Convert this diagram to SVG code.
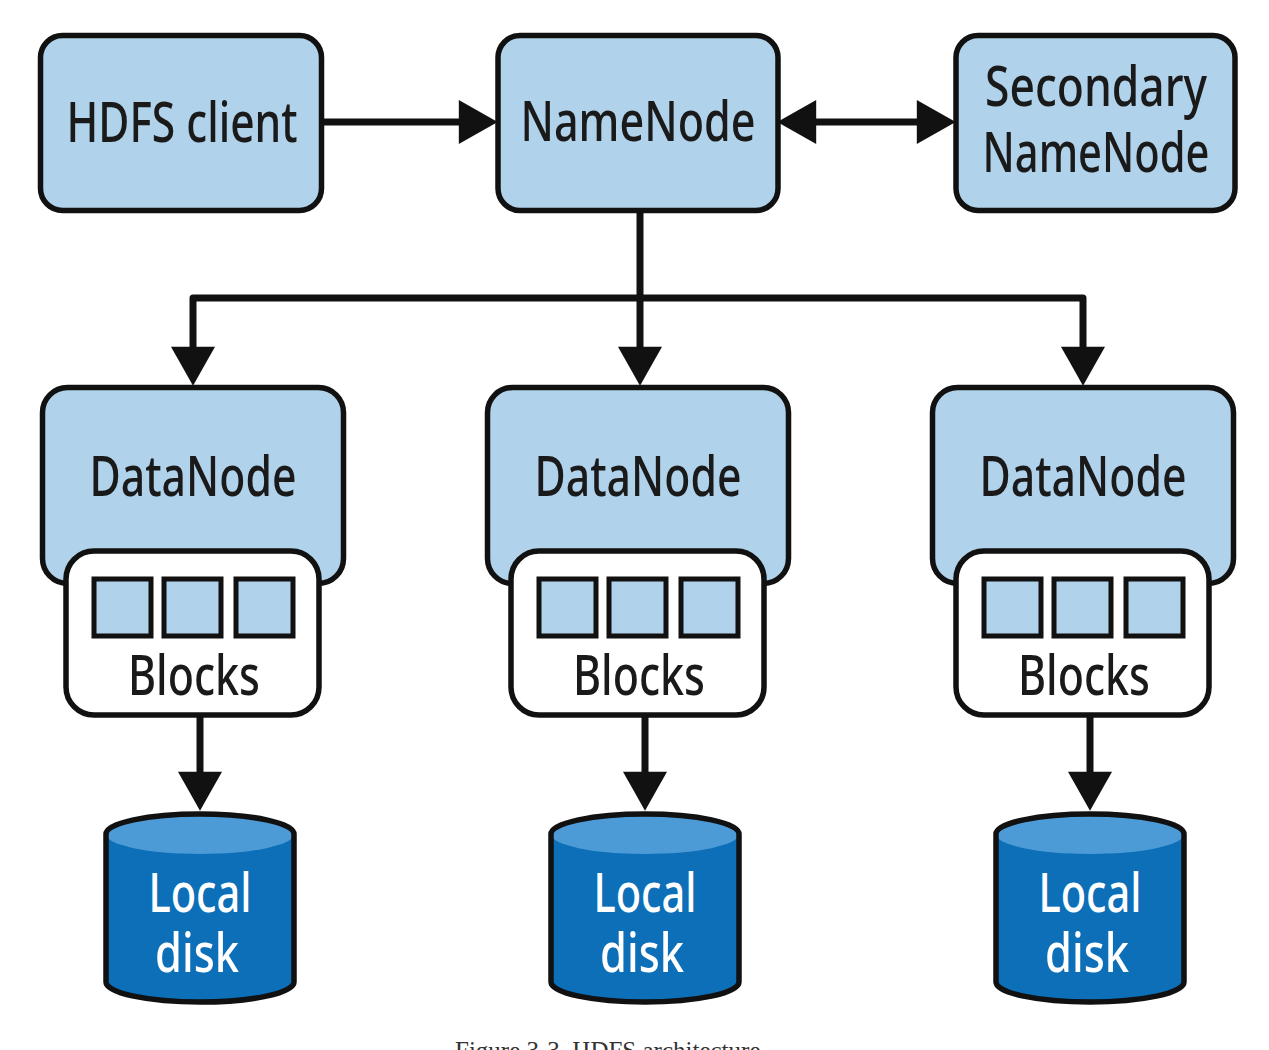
<svg xmlns="http://www.w3.org/2000/svg" width="1269" height="1050" viewBox="0 0 1269 1050">
<defs>
<style>
.box{fill:#b0d2ea;stroke:#111;stroke-width:5.5}
.blk{fill:#fff;stroke:#111;stroke-width:5.5}
.sq{fill:#b0d2ea;stroke:#111;stroke-width:5}
.lbl{font-family:"Noto Sans","Open Sans",sans-serif;font-size:57px;font-weight:500;fill:#1a1a1a;text-anchor:middle}
.wl{font-family:"Noto Sans","Open Sans",sans-serif;font-size:55px;font-weight:500;fill:#fff;text-anchor:middle}
.conn{fill:none;stroke:#111;stroke-width:7;stroke-linejoin:round}
.body{fill:#0c6fb8}
.top{fill:#4d9bd6}
.outl{fill:none;stroke:#111;stroke-width:5.5}
.cap{font-family:"Liberation Serif",serif;font-size:25px;fill:#333}
</style>
<marker id="ah" markerUnits="userSpaceOnUse" markerWidth="40" markerHeight="44" viewBox="0 0 38 43" refX="8" refY="21.5" orient="auto-start-reverse">
<path d="M0,0 L38,21.5 L0,43 Z" fill="#111"/>
</marker>
</defs>
<rect width="1269" height="1050" fill="#fff"/>

<g id="connectors">
<path class="conn" d="M323,122 H467" marker-end="url(#ah)"/>
<path class="conn" d="M808,122 H925" marker-start="url(#ah)" marker-end="url(#ah)"/>
<path class="conn" d="M640,212 V355" marker-end="url(#ah)"/>
<path class="conn" d="M640,298 H193 V355" marker-end="url(#ah)"/>
<path class="conn" d="M640,298 H1083 V355" marker-end="url(#ah)"/>
<path class="conn" d="M200,715 V780" marker-end="url(#ah)"/>
<path class="conn" d="M645,715 V780" marker-end="url(#ah)"/>
<path class="conn" d="M1090,715 V780" marker-end="url(#ah)"/>
</g>

<g id="hdfs-client">
<rect class="box" x="40.5" y="35.5" width="281" height="175" rx="22"/>
<text class="lbl" x="182" y="142" textLength="231" lengthAdjust="spacingAndGlyphs">HDFS client</text>
</g>
<g id="namenode">
<rect class="box" x="498" y="35.5" width="280" height="175" rx="22"/>
<text class="lbl" x="638" y="141" textLength="235" lengthAdjust="spacingAndGlyphs">NameNode</text>
</g>
<g id="secondary-namenode">
<rect class="box" x="956" y="35.5" width="279" height="175" rx="22"/>
<text class="lbl" x="1096" y="106" textLength="222" lengthAdjust="spacingAndGlyphs">Secondary</text>
<text class="lbl" x="1096" y="172" textLength="227" lengthAdjust="spacingAndGlyphs">NameNode</text>
</g>

<g id="datanode-1">
<rect class="box" x="42.5" y="387.5" width="301" height="196" rx="25"/>
<text class="lbl" x="193" y="496" textLength="207" lengthAdjust="spacingAndGlyphs">DataNode</text>
<rect class="blk" x="66" y="551" width="253" height="164" rx="28"/>
<rect class="sq" x="94" y="579" width="57" height="57"/>
<rect class="sq" x="164" y="579" width="57" height="57"/>
<rect class="sq" x="236" y="579" width="57" height="57"/>
<text class="lbl" x="194" y="695" textLength="132" lengthAdjust="spacingAndGlyphs">Blocks</text>
</g>
<g id="datanode-2">
<rect class="box" x="487.5" y="387.5" width="301" height="196" rx="25"/>
<text class="lbl" x="638" y="496" textLength="207" lengthAdjust="spacingAndGlyphs">DataNode</text>
<rect class="blk" x="511" y="551" width="253" height="164" rx="28"/>
<rect class="sq" x="539" y="579" width="57" height="57"/>
<rect class="sq" x="609" y="579" width="57" height="57"/>
<rect class="sq" x="681" y="579" width="57" height="57"/>
<text class="lbl" x="639" y="695" textLength="132" lengthAdjust="spacingAndGlyphs">Blocks</text>
</g>
<g id="datanode-3">
<rect class="box" x="932.5" y="387.5" width="301" height="196" rx="25"/>
<text class="lbl" x="1083" y="496" textLength="207" lengthAdjust="spacingAndGlyphs">DataNode</text>
<rect class="blk" x="956" y="551" width="253" height="164" rx="28"/>
<rect class="sq" x="984" y="579" width="57" height="57"/>
<rect class="sq" x="1054" y="579" width="57" height="57"/>
<rect class="sq" x="1126" y="579" width="57" height="57"/>
<text class="lbl" x="1084" y="695" textLength="132" lengthAdjust="spacingAndGlyphs">Blocks</text>
</g>

<g id="disk-1">
<path class="body" d="M106,834 V982 A94,20 0 0 0 294,982 V834 Z"/>
<ellipse class="top" cx="200" cy="834" rx="94" ry="20"/>
<path class="outl" d="M106,834 V982 A94,20 0 0 0 294,982 V834 A94,20 0 0 0 106,834 Z"/>
<text class="wl" x="200" y="912" textLength="103" lengthAdjust="spacingAndGlyphs">Local</text>
<text class="wl" x="197" y="972" textLength="84" lengthAdjust="spacingAndGlyphs">disk</text>
</g>
<g id="disk-2">
<path class="body" d="M551,834 V982 A94,20 0 0 0 739,982 V834 Z"/>
<ellipse class="top" cx="645" cy="834" rx="94" ry="20"/>
<path class="outl" d="M551,834 V982 A94,20 0 0 0 739,982 V834 A94,20 0 0 0 551,834 Z"/>
<text class="wl" x="645" y="912" textLength="103" lengthAdjust="spacingAndGlyphs">Local</text>
<text class="wl" x="642" y="972" textLength="84" lengthAdjust="spacingAndGlyphs">disk</text>
</g>
<g id="disk-3">
<path class="body" d="M996,834 V982 A94,20 0 0 0 1184,982 V834 Z"/>
<ellipse class="top" cx="1090" cy="834" rx="94" ry="20"/>
<path class="outl" d="M996,834 V982 A94,20 0 0 0 1184,982 V834 A94,20 0 0 0 996,834 Z"/>
<text class="wl" x="1090" y="912" textLength="103" lengthAdjust="spacingAndGlyphs">Local</text>
<text class="wl" x="1087" y="972" textLength="84" lengthAdjust="spacingAndGlyphs">disk</text>
</g>

<text class="cap" x="455" y="1059">Figure 3-3. HDFS architecture</text>
</svg>
